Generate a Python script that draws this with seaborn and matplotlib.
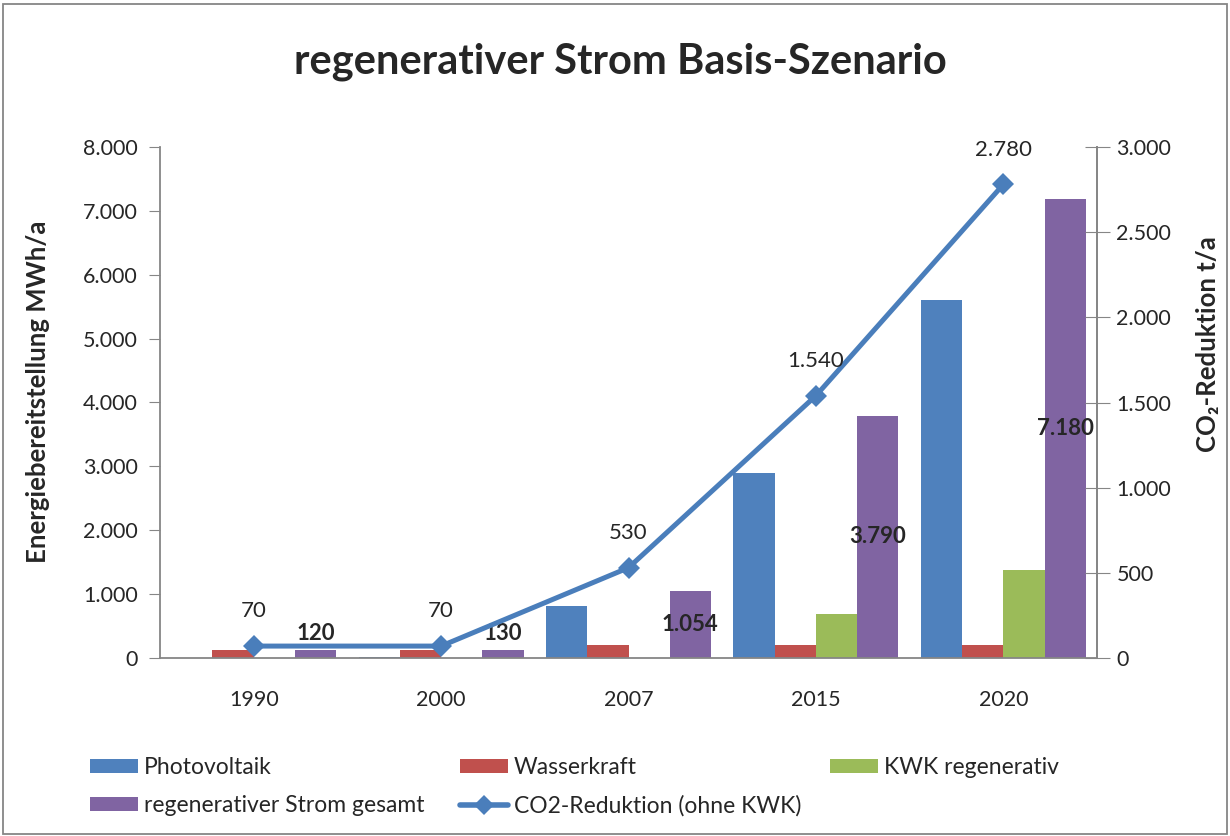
import numpy as np
import pandas as pd
import matplotlib
matplotlib.use("Agg")
import matplotlib.pyplot as plt
import seaborn as sns
from matplotlib.patches import Patch, Rectangle
from matplotlib.lines import Line2D

# ---- data ----
years = ["1990", "2000", "2007", "2015", "2020"]
photovoltaik = [0, 10, 810, 2890, 5600]
wasserkraft = [120, 120, 210, 210, 210]
kwk = [0, 0, 0, 690, 1380]
gesamt = [120, 130, 1054, 3790, 7180]
co2 = [70, 70, 530, 1540, 2780]
series_names = ["Photovoltaik", "Wasserkraft", "KWK regenerativ", "regenerativer Strom gesamt"]
line_name = "CO2-Reduktion (ohne KWK)"
colors = ["#4F81BD", "#C0504D", "#9BBB59", "#8064A2"]
line_color = "#4A7EBB"
grey = "#868686"

def fmt(v):
    return f"{v:,}".replace(",", ".")

sns.set_style("white")
plt.rcParams["font.family"] = ["Lato", "DejaVu Sans"]

df = pd.DataFrame({
    "Jahr": years * 4,
    "Wert": photovoltaik + wasserkraft + kwk + gesamt,
    "Serie": sum([[n] * len(years) for n in series_names], []),
})

fig = plt.figure(figsize=(12.3, 8.36), dpi=100)
ax = fig.add_axes([160 / 1230, 1 - 658 / 836, (1097 - 160) / 1230, (658 - 147) / 836])

sns.barplot(data=df, x="Jahr", y="Wert", hue="Serie", palette=colors,
            width=0.88, gap=0, dodge=True, ax=ax, legend=False,
            errorbar=None, linewidth=0, saturation=1)

ax.set_ylim(0, 8000)
ax.set_xlim(-0.5, len(years) - 0.5)
ax.set_yticks(np.arange(0, 8001, 1000))
ax.set_yticklabels([fmt(v) for v in range(0, 8001, 1000)], fontsize=15.5)
ax.set_xlabel("")
ax.set_ylabel("")
ax.set_xticks(range(len(years)))
ax.set_xticklabels(years, fontsize=15.5)
ax.set_xticks(np.arange(-0.5, len(years), 1), minor=True)
ax.tick_params(axis="x", which="major", length=0, pad=23)
ax.tick_params(axis="x", which="minor", length=9, color=grey, direction="out")
ax.tick_params(axis="y", length=8, color=grey, direction="out", pad=8)
ax.spines["top"].set_visible(False)
for s in ["left", "bottom", "right"]:
    ax.spines[s].set_color(grey)
    ax.spines[s].set_linewidth(1.3)

# bar labels for total
gesamt_bars = ax.containers[3]
for bar, v in zip(gesamt_bars, gesamt):
    xc = bar.get_x() + bar.get_width() / 2
    yc = max(v / 2, 390)
    ax.text(xc, yc, fmt(v), ha="center", va="center", fontsize=16, fontweight="bold")

# secondary axis
ax2 = ax.twinx()
sns.lineplot(x=np.arange(len(years)), y=co2, ax=ax2, color=line_color, linewidth=3.6,
             marker="D", markersize=11, markeredgewidth=0, legend=False)
ax2.set_ylim(0, 3000)
ax2.set_yticks(np.arange(0, 3001, 500))
ax2.set_yticklabels([fmt(v) for v in range(0, 3001, 500)], fontsize=15.5)
ax2.tick_params(axis="y", length=18, color=grey, direction="inout", pad=5)
for s in ["top", "left", "bottom"]:
    ax2.spines[s].set_visible(False)
ax2.spines["right"].set_color(grey)
ax2.spines["right"].set_linewidth(1.3)
ax2.set_ylabel("")
for i, v in enumerate(co2):
    ax2.annotate(fmt(v), (i, v), xytext=(0, 25), textcoords="offset points",
                 ha="center", va="center", fontsize=16)

# titles / labels
fig.text(620 / 1230, 1 - 62 / 836, "regenerativer Strom Basis-Szenario",
         ha="center", va="center", fontsize=30, fontweight="bold")
fig.text(38 / 1230, 1 - 392 / 836, "Energiebereitstellung MWh/a", rotation=90,
         ha="center", va="center", fontsize=18.5, fontweight="bold")
fig.text(1208 / 1230, 1 - 344 / 836, "CO\u2082-Reduktion t/a", rotation=90,
         ha="center", va="center", fontsize=18.5, fontweight="bold")

# legend
handles = [Patch(facecolor=c, edgecolor="none") for c in colors]
line_handle = Line2D([], [], color=line_color, linewidth=4, marker="D", markersize=10,
                     markeredgewidth=0)
cols = [([handles[0], handles[3]], [series_names[0], series_names[3]], 90),
        ([handles[1], line_handle], [series_names[1], line_name], 460),
        ([handles[2]], [series_names[2]], 830)]
for hs, ls, xpx in cols:
    fig.legend(hs, ls, loc="upper left", bbox_to_anchor=(xpx / 1230, 1 - 757 / 836),
               frameon=False, borderaxespad=0, borderpad=0, fontsize=16.5,
               handlelength=2.1, handleheight=0.6, handletextpad=0.25, labelspacing=0.75)

# outer border
fig.patches.append(Rectangle((3 / 1230, 2 / 836), 1224 / 1230, 830 / 836,
                             transform=fig.transFigure, fill=False,
                             edgecolor=grey, linewidth=1.3))

fig.savefig("out.png", dpi=100)
